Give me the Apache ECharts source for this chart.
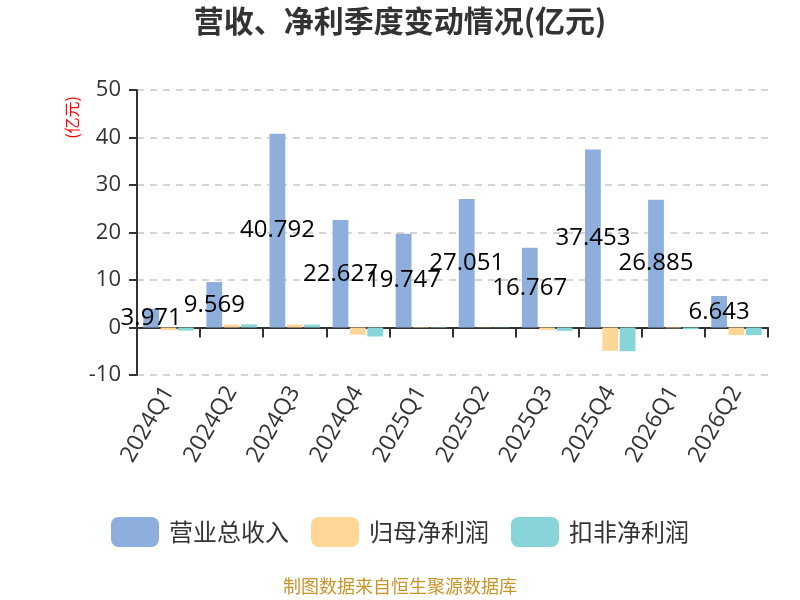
<!DOCTYPE html>
<html><head><meta charset="utf-8">
<script src="https://cdn.jsdelivr.net/npm/echarts@6/dist/echarts.min.js"></script>
<style>html,body{margin:0;padding:0;background:#fff}#c{width:800px;height:600px}</style>
</head><body><div id="c"></div>
<script>
const categories = ['2024Q1','2024Q2','2024Q3','2024Q4','2025Q1','2025Q2','2025Q3','2025Q4','2026Q1','2026Q2'];
const revenue = [3.971, 9.569, 40.792, 22.627, 19.747, 27.051, 16.767, 37.453, 26.885, 6.643];
const netProfit = [-0.55, 0.6, 0.6, -1.5, -0.1, 0.05, -0.5, -4.9, -0.15, -1.6];
const deductedProfit = [-0.65, 0.65, 0.6, -1.9, -0.1, 0.05, -0.7, -5.0, -0.35, -1.6];
const yTicks = [-10, 0, 10, 20, 30, 40, 50];

const FONT = '"Open Sans", "Noto Sans CJK SC", sans-serif';
const CJK = '"Noto Sans CJK SC", "Open Sans", sans-serif';
const chart = echarts.init(document.getElementById('c'));
chart.setOption({
  animation: false,
  textStyle: { fontFamily: FONT },
  title: {
    text: '营收、净利季度变动情况(亿元)', left: 'center', top: 1,
    textStyle: { fontSize: 30, fontWeight: 'bold', color: '#333', fontFamily: CJK }
  },
  graphic: [{
    type: 'text', left: 64, top: 96, rotation: Math.PI / 2,
    style: { text: '(亿元)', fill: '#ff0000', fontSize: 16, fontFamily: CJK }
  }, {
    type: 'text', left: 'center', top: 577,
    style: { text: '制图数据来自恒生聚源数据库', fill: '#c9952b', fontSize: 18, fontFamily: CJK }
  }],
  legend: {
    bottom: 48, left: 'center', itemWidth: 48, itemHeight: 30, itemGap: 22,
    textStyle: { fontSize: 24, color: '#333', fontFamily: CJK, padding: [0, 0, 0, 5] },
    data: [
      { name: '营业总收入', itemStyle: { borderRadius: 8 } },
      { name: '归母净利润', itemStyle: { borderRadius: 8 } },
      { name: '扣非净利润', itemStyle: { borderRadius: 8 } }
    ]
  },
  grid: { left: 137, right: 32, top: 90, bottom: 225 },
  xAxis: [{
    type: 'category', data: categories,
    axisLine: { onZero: true, lineStyle: { color: '#333', width: 2 } },
    axisTick: { show: true, length: 10, lineStyle: { color: '#333', width: 2 } },
    axisLabel: { show: false }
  }, {
    type: 'category', data: categories, position: 'bottom',
    axisLine: { show: false }, axisTick: { show: false },
    axisLabel: { rotate: 60, fontSize: 23, color: '#333', margin: 13, fontFamily: FONT }
  }],
  yAxis: {
    type: 'value', min: yTicks[0], max: yTicks[yTicks.length - 1], interval: 10,
    axisLine: { show: true, lineStyle: { color: '#333', width: 2 } },
    axisTick: { show: true, length: 8, lineStyle: { color: '#333', width: 2 } },
    axisLabel: { fontSize: 22, color: '#333', margin: 16, fontFamily: FONT },
    splitLine: { lineStyle: { type: [7, 6], color: '#c8c8c8', width: 1.5 } }
  },
  series: [{
    name: '营业总收入', type: 'bar', data: revenue, barGap: '10%', barCategoryGap: '20%',
    itemStyle: { color: '#8eaedb' },
    label: { show: true, position: 'inside', color: '#000', fontSize: 24, fontFamily: FONT },
    z: 3
  }, {
    name: '归母净利润', type: 'bar', data: netProfit,
    itemStyle: { color: '#fed797' }
  }, {
    name: '扣非净利润', type: 'bar', data: deductedProfit,
    itemStyle: { color: '#87d5d9' }
  }]
});
</script></body></html>
